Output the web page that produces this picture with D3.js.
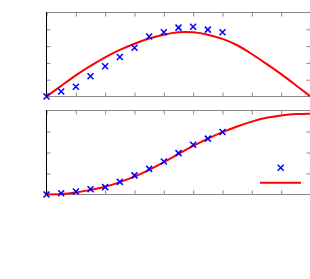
<!DOCTYPE html>
<html>
<head>
<meta charset="utf-8">
<script src="https://cdn.jsdelivr.net/npm/d3@7"></script>
<style>
  body { margin: 0; background: #fff; }
  svg { display: block; }
</style>
</head>
<body>
<div id="chart"></div>
<script>
// measured samples (x in tick units)
const sampleT = [0, 0.5, 1, 1.5, 2, 2.5, 3, 3.5, 4, 4.5, 5, 5.5, 6];
const topPoints = [0, 0.30, 0.58, 1.21, 1.80, 2.35, 2.90, 3.57, 3.82, 4.10, 4.15, 3.98, 3.82];
const bottomPoints = [0, 0.06, 0.14, 0.25, 0.35, 0.60, 0.91, 1.22, 1.57, 1.97, 2.37, 2.66, 2.98];

// fitted curves
const curveT = [0, 0.5, 1, 1.5, 2, 2.5, 3, 3.5, 4, 4.5, 5, 5.5, 6, 6.5, 7, 7.5, 8, 8.5, 9];
const topCurve = [0, 0.63, 1.26, 1.82, 2.33, 2.77, 3.14, 3.45, 3.68, 3.82, 3.82, 3.68, 3.43, 3.05, 2.53, 1.94, 1.33, 0.67, 0];
const bottomCurve = [0, 0.02, 0.1, 0.22, 0.37, 0.59, 0.85, 1.17, 1.54, 1.93, 2.31, 2.66, 2.97, 3.24, 3.47, 3.65, 3.76, 3.83, 3.85];

const xTicks = [0, 1, 2, 3, 4, 5, 6, 7, 8, 9];

const width = 310, height = 279;

const svg = d3.select("#chart").append("svg")
    .attr("width", width)
    .attr("height", height);

const x = d3.scaleLinear().domain([0, 9]).range([46.5, 310.5]);

const panels = [
    { y: d3.scaleLinear().domain([0, 5]).range([96.5, 12.5]), pts: topPoints, curve: topCurve, yTicks: [1, 2, 3, 4] },
    { y: d3.scaleLinear().domain([0, 4]).range([194.5, 110.5]), pts: bottomPoints, curve: bottomCurve, yTicks: [1, 2, 3] }
];

const tickColor = "#888";

panels.forEach(p => {
    const g = svg.append("g");
    const [y0, y1] = p.y.range();

    // ticks, all pointing inward
    g.append("g").attr("transform", `translate(0,${y1})`)
        .call(d3.axisTop(x).tickValues(xTicks).tickSize(-4).tickSizeOuter(0).tickFormat(""));
    g.append("g").attr("transform", `translate(0,${y0})`)
        .call(d3.axisBottom(x).tickValues(xTicks).tickSize(-4).tickSizeOuter(0).tickFormat(""));
    g.append("g").attr("transform", `translate(${x.range()[0]},0)`)
        .call(d3.axisLeft(p.y).tickValues(p.yTicks).tickSize(-4).tickSizeOuter(0).tickFormat(""));
    g.append("g").attr("transform", `translate(${x.range()[1]},0)`)
        .call(d3.axisRight(p.y).tickValues(p.yTicks).tickSize(-4).tickSizeOuter(0).tickFormat(""));
    g.selectAll(".domain").remove();
    g.selectAll(".tick line").attr("stroke", tickColor);

    // frame
    g.append("line").attr("x1", x.range()[0]).attr("x2", x.range()[1]).attr("y1", y1).attr("y2", y1).attr("stroke", tickColor);
    g.append("line").attr("x1", x.range()[0]).attr("x2", x.range()[1]).attr("y1", y0).attr("y2", y0).attr("stroke", tickColor);
    g.append("line").attr("x1", x.range()[1]).attr("x2", x.range()[1]).attr("y1", y1).attr("y2", y0).attr("stroke", tickColor);
    g.append("line").attr("x1", x.range()[0]).attr("x2", x.range()[0]).attr("y1", y1 - 0.5).attr("y2", y0 + 0.5).attr("stroke", "#000");

    const line = d3.line()
        .x((d, i) => x(curveT[i]))
        .y(d => p.y(d))
        .curve(d3.curveNatural);

    g.append("path")
        .datum(p.curve)
        .attr("d", line)
        .attr("fill", "none")
        .attr("stroke", "#ff0000")
        .attr("stroke-width", 2);

    g.selectAll(".pt")
        .data(p.pts)
        .enter()
        .append("path")
        .attr("class", "pt")
        .attr("d", (d, i) => {
            const cx = x(sampleT[i]), cy = p.y(d), r = 3;
            return `M${cx - r},${cy - r}L${cx + r},${cy + r}M${cx - r},${cy + r}L${cx + r},${cy - r}`;
        })
        .attr("stroke", "#0000ff")
        .attr("stroke-width", 1.5)
        .attr("fill", "none");
});

// legend (no labels visible)
const lg = svg.append("g");
lg.append("path")
    .attr("d", "M277.7,164.7L283.7,170.7M277.7,170.7L283.7,164.7")
    .attr("stroke", "#0000ff")
    .attr("stroke-width", 1.5);
lg.append("line")
    .attr("x1", 260).attr("x2", 301)
    .attr("y1", 182.7).attr("y2", 182.7)
    .attr("stroke", "#ff0000")
    .attr("stroke-width", 2);
</script>
</body>
</html>
